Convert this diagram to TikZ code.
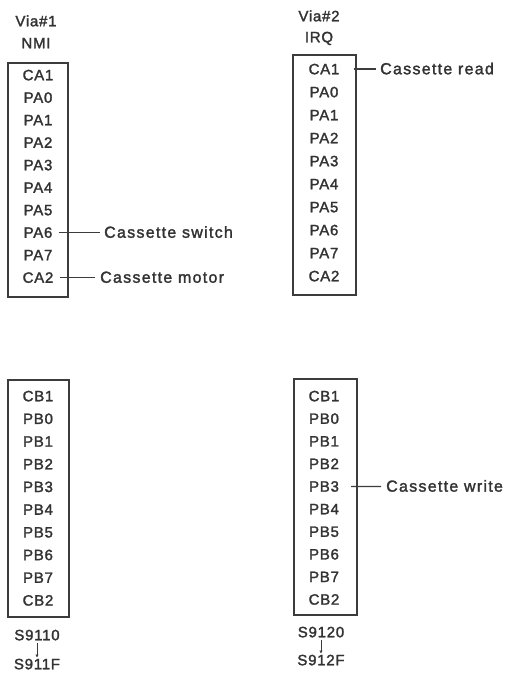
\documentclass[tikz,border=0pt]{standalone}
\usepackage{fontspec}
\setmainfont{Liberation Sans}[LetterSpace=5,FakeBold=1.8]
\newfontfamily\lblfont{Liberation Sans}[LetterSpace=8,FakeBold=1.8]
\usetikzlibrary{arrows.meta}
\definecolor{ink}{HTML}{333333}
\definecolor{rule}{HTML}{3c3c3c}
\tikzset{
  txt/.style={inner sep=0pt,text height=10.5pt,text depth=0pt,text=ink,font=\fontsize{15pt}{17pt}\selectfont},
  lbl/.style={txt,anchor=west,font=\lblfont\fontsize{16pt}{18pt}\selectfont},
  pinbox/.style={draw=rule,line width=1.4pt},
  conn/.style={draw=rule,line width=1.3pt},
}
\begin{document}
\begin{tikzpicture}[x=1pt,y=-1pt]
\useasboundingbox[fill=white] (0,0) rectangle (507,686);
% ---------- VIA 1 port A
\node[txt] (t1a) at (36,21) {Via\#1};
\node[txt] (t1b) at (36,43) {NMI};
\draw[pinbox] (8,63) rectangle (68,297);
\foreach \n [count=\i from 0] in {CA1,PA0,PA1,PA2,PA3,PA4,PA5,PA6,PA7,CA2}
  \node[txt] (a\i) at (38,75+22.5*\i) {\n};
\node[lbl] (sw) at (104,232.5) {Cassette switch};
\node[lbl] (mo) at (100,277.5) {Cassette motor};
\draw[conn,shorten <=6pt,shorten >=4pt] (a7) -- (sw);
\draw[conn,shorten <=6pt,shorten >=5pt] (a9) -- (mo);
% ---------- VIA 2 port A
\node[txt] (t2a) at (319,16) {Via\#2};
\node[txt] (t2b) at (319,37) {IRQ};
\draw[pinbox] (293,55) rectangle (356,295);
\foreach \n [count=\i from 0] in {CA1,PA0,PA1,PA2,PA3,PA4,PA5,PA6,PA7,CA2}
  \node[txt] (b\i) at (324,69+23*\i) {\n};
\node[lbl] (rd) at (380,69) {Cassette read};
\draw[conn,shorten <=14pt,shorten >=4pt] (b0) -- (rd);
% ---------- VIA 1 port B
\draw[pinbox] (8,380) rectangle (69,617);
\foreach \n [count=\i from 0] in {CB1,PB0,PB1,PB2,PB3,PB4,PB5,PB6,PB7,CB2}
  \node[txt] (c\i) at (38,396+22.7*\i) {\n};
\node[txt] (s1) at (37,635) {S9110};
\node[txt] (s2) at (37,664) {S911F};
\draw[conn,line width=1pt,-{Latex[length=3pt,width=3.5pt]},shorten <=3pt,shorten >=1pt] (s1) -- (s2);
% ---------- VIA 2 port B
\draw[pinbox] (294,379) rectangle (357,615);
\foreach \n [count=\i from 0] in {CB1,PB0,PB1,PB2,PB3,PB4,PB5,PB6,PB7,CB2}
  \node[txt] (d\i) at (324,396+22.6*\i) {\n};
\node[lbl] (wr) at (386,486.4) {Cassette write};
\draw[conn,shorten <=12pt,shorten >=5pt] (d4) -- (wr);
\node[txt] (s3) at (321,632) {S9120};
\node[txt] (s4) at (321,660) {S912F};
\draw[conn,line width=1pt,-{Latex[length=3pt,width=3.5pt]},shorten <=3pt,shorten >=1pt] (s3) -- (s4);
\end{tikzpicture}
\end{document}
